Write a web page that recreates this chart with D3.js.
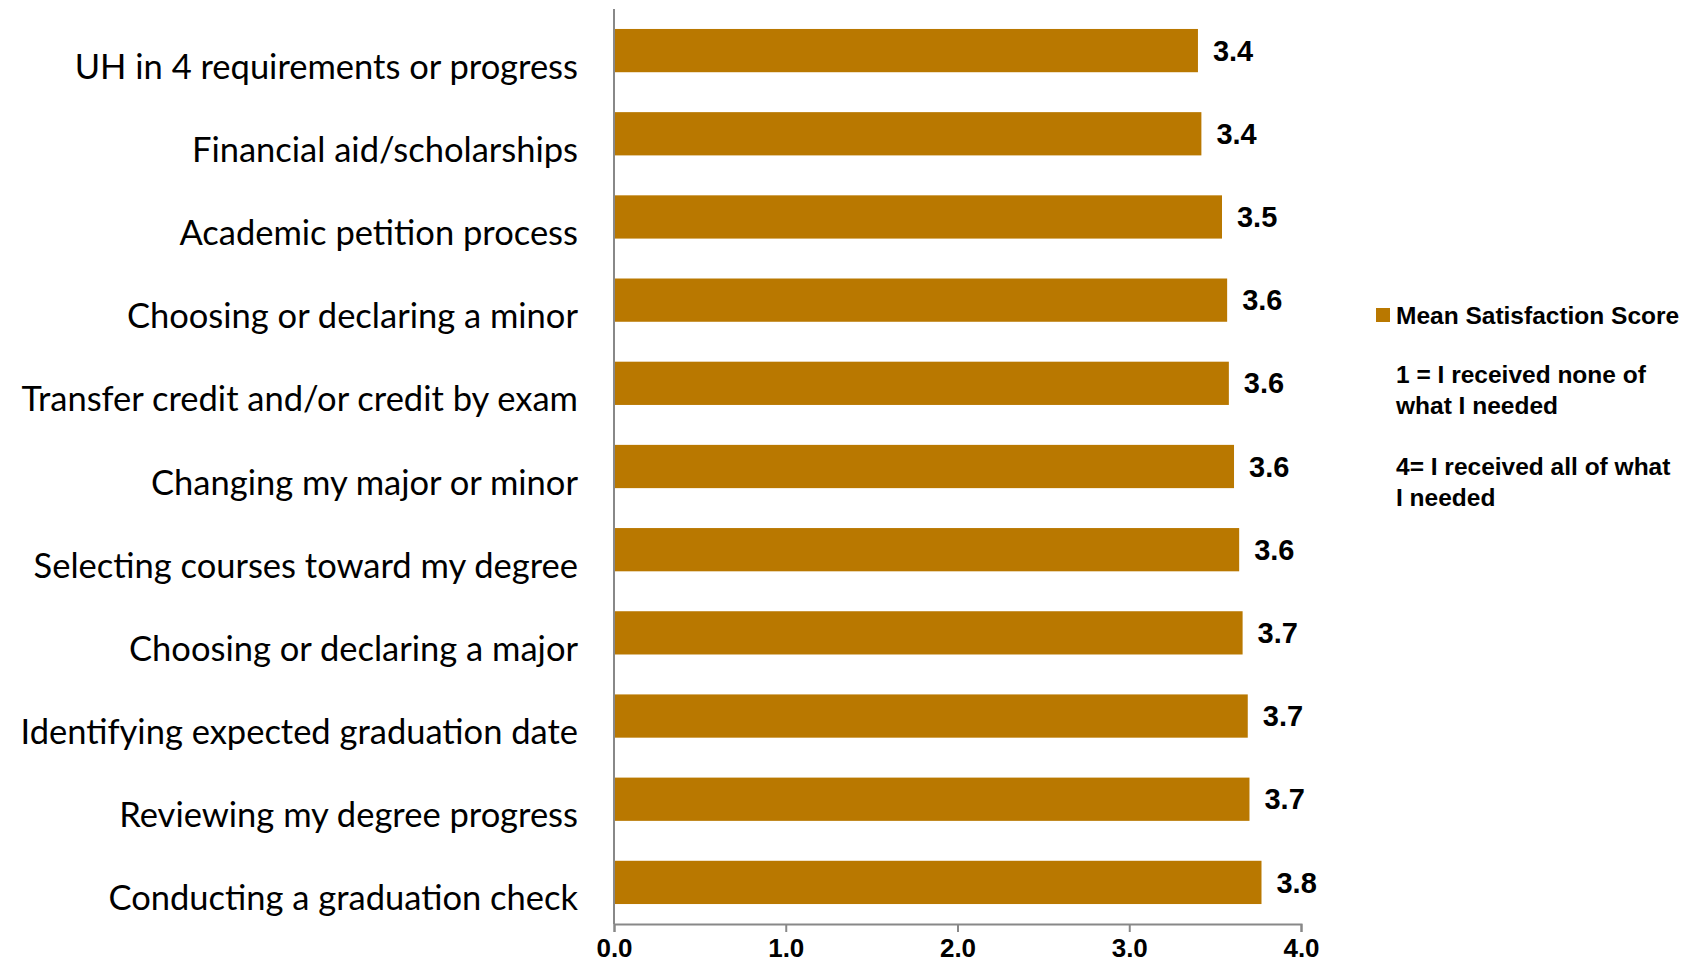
<!DOCTYPE html>
<html>
<head>
<meta charset="utf-8">
<script src="https://cdn.jsdelivr.net/npm/d3@7"></script>
<style>
  body { margin: 0; background: #fff; }
</style>
</head>
<body>
<div id="chart"></div>
<script>
// categories top to bottom, with mean scores
var categories = [
  "UH in 4 requirements or progress",
  "Financial aid/scholarships",
  "Academic petition process",
  "Choosing or declaring a minor",
  "Transfer credit and/or credit by exam",
  "Changing my major or minor",
  "Selecting courses toward my degree",
  "Choosing or declaring a major",
  "Identifying expected graduation date",
  "Reviewing my degree progress",
  "Conducting a graduation check"
];
var scores = [3.40, 3.42, 3.54, 3.57, 3.58, 3.61, 3.64, 3.66, 3.69, 3.70, 3.77];
var xTicks = [0, 1, 2, 3, 4];
var legendLabel = "Mean Satisfaction Score";
var legendNotes = [
  ["1 = I received none of", "what I needed"],
  ["4= I received all of what", "I needed"]
];

var width = 1702,
  height = 966;
var barColor = "#b97800";

var svg = d3.select("#chart")
  .append("svg")
  .attr("width", width)
  .attr("height", height);

var x = d3.scaleLinear().domain([0, 4]).range([614, 1301]);
var y = d3.scaleBand().domain(categories).range([9, 924]).paddingInner(0.48).paddingOuter(0.24);

// bars
svg.append("g")
  .selectAll("rect")
  .data(categories)
  .enter()
  .append("rect")
  .attr("x", x(0))
  .attr("y", d => y(d))
  .attr("width", (d, i) => x(scores[i]) - x(0))
  .attr("height", y.bandwidth())
  .attr("fill", barColor);

// value labels
svg.append("g")
  .selectAll("text")
  .data(categories)
  .enter()
  .append("text")
  .attr("x", (d, i) => x(scores[i]) + 15)
  .attr("y", d => y(d) + y.bandwidth() / 2)
  .attr("dy", "0.35em")
  .style("font", "bold 29px 'Liberation Sans Narrow', 'Liberation Sans', sans-serif")
  .attr("fill", "#000")
  .text((d, i) => d3.format(".1f")(scores[i]));

// category labels (sit a little low, as in the original)
svg.append("g")
  .selectAll("text")
  .data(categories)
  .enter()
  .append("text")
  .attr("x", 578)
  .attr("y", d => y(d) + y.bandwidth() / 2 + 16)
  .attr("dy", "0.35em")
  .attr("text-anchor", "end")
  .style("font", "34.5px Lato, 'Open Sans', sans-serif")
  .attr("fill", "#000")
  .text(d => d);

// x axis
var xAxis = svg.append("g")
  .attr("transform", `translate(0,924)`)
  .call(d3.axisBottom(x).tickValues(xTicks).tickFormat(d3.format(".1f")).tickSize(8).tickSizeOuter(8));
xAxis.select(".domain").attr("stroke", "#888").attr("stroke-width", 2);
xAxis.selectAll(".tick line").attr("stroke", "#888").attr("stroke-width", 2);
xAxis.selectAll(".tick text")
  .attr("y", 15)
  .attr("fill", "#000")
  .style("font", "bold 26px 'Liberation Sans Narrow', 'Liberation Sans', sans-serif");

// vertical axis line
svg.append("line")
  .attr("x1", x(0)).attr("x2", x(0))
  .attr("y1", 9).attr("y2", 924)
  .attr("stroke", "#888")
  .attr("stroke-width", 2);

// legend
var legend = svg.append("g").attr("transform", "translate(1376,308)");
legend.append("rect")
  .attr("width", 14).attr("height", 14)
  .attr("fill", barColor);
legend.append("text")
  .attr("x", 20).attr("y", 7).attr("dy", "0.35em")
  .style("font", "bold 24.5px 'Liberation Sans', Arial, sans-serif")
  .text(legendLabel);

legendNotes.forEach((lines, i) => {
  lines.forEach((line, j) => {
    legend.append("text")
      .attr("x", 20)
      .attr("y", 66 + i * 92 + j * 31)
      .attr("dy", "0.35em")
      .style("font", "bold 24.5px 'Liberation Sans', Arial, sans-serif")
      .text(line);
  });
});
</script>
</body>
</html>
